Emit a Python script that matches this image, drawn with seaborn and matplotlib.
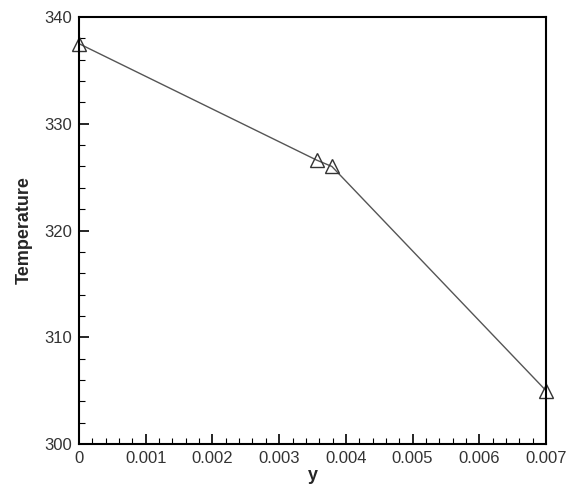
import matplotlib
matplotlib.use("Agg")
import matplotlib.pyplot as plt
from matplotlib.ticker import FixedLocator
import numpy as np
import seaborn as sns
import pandas as pd

# Temperature profile along y
y_pos = [0.0, 0.00356, 0.00379, 0.007]
temperature = [337.5, 326.6, 326.0, 305.0]

x_ticks = [0.0, 0.001, 0.002, 0.003, 0.004, 0.005, 0.006, 0.007]
x_tick_labels = ["0", "0.001", "0.002", "0.003", "0.004", "0.005", "0.006", "0.007"]
y_ticks = [300, 310, 320, 330, 340]

sns.set_style("white")
plt.rcParams["font.family"] = ["Liberation Sans", "DejaVu Sans"]

df = pd.DataFrame({"y": y_pos, "Temperature": temperature})

fig = plt.figure(figsize=(5.66, 4.84), dpi=100)
ax = fig.add_axes([0.1396, 0.0826, 0.8251, 0.8823])

sns.lineplot(data=df, x="y", y="Temperature", ax=ax, color="#555555",
             linewidth=1.0, marker="^", markersize=10,
             markerfacecolor="none", markeredgecolor="#333333",
             markeredgewidth=1.0, sort=False, clip_on=False)

ax.set_xlim(0, 0.007)
ax.set_ylim(300, 340)
ax.set_xticks(x_ticks)
ax.set_xticklabels(x_tick_labels)
ax.set_yticks(y_ticks)
ax.set_yticklabels([str(v) for v in y_ticks])
ax.xaxis.set_minor_locator(FixedLocator(np.arange(0, 0.00701, 0.0002)))
ax.yaxis.set_minor_locator(FixedLocator(np.arange(300, 340.1, 2)))

ax.tick_params(axis="both", which="major", direction="in", length=7.2, width=1.2,
               labelsize=12, colors="black", labelcolor="#333333", pad=5)
ax.tick_params(axis="both", which="minor", direction="in", length=4.3, width=0.8,
               colors="black")
ax.tick_params(top=False, right=False, which="both", bottom=True, left=True)

for s in ax.spines.values():
    s.set_linewidth(1.5)
    s.set_color("black")

ax.set_xlabel("y", fontsize=13, fontweight="bold", labelpad=1)
ax.set_ylabel("Temperature", fontsize=13, fontweight="bold", labelpad=8)

fig.savefig("out.png", dpi=100)
